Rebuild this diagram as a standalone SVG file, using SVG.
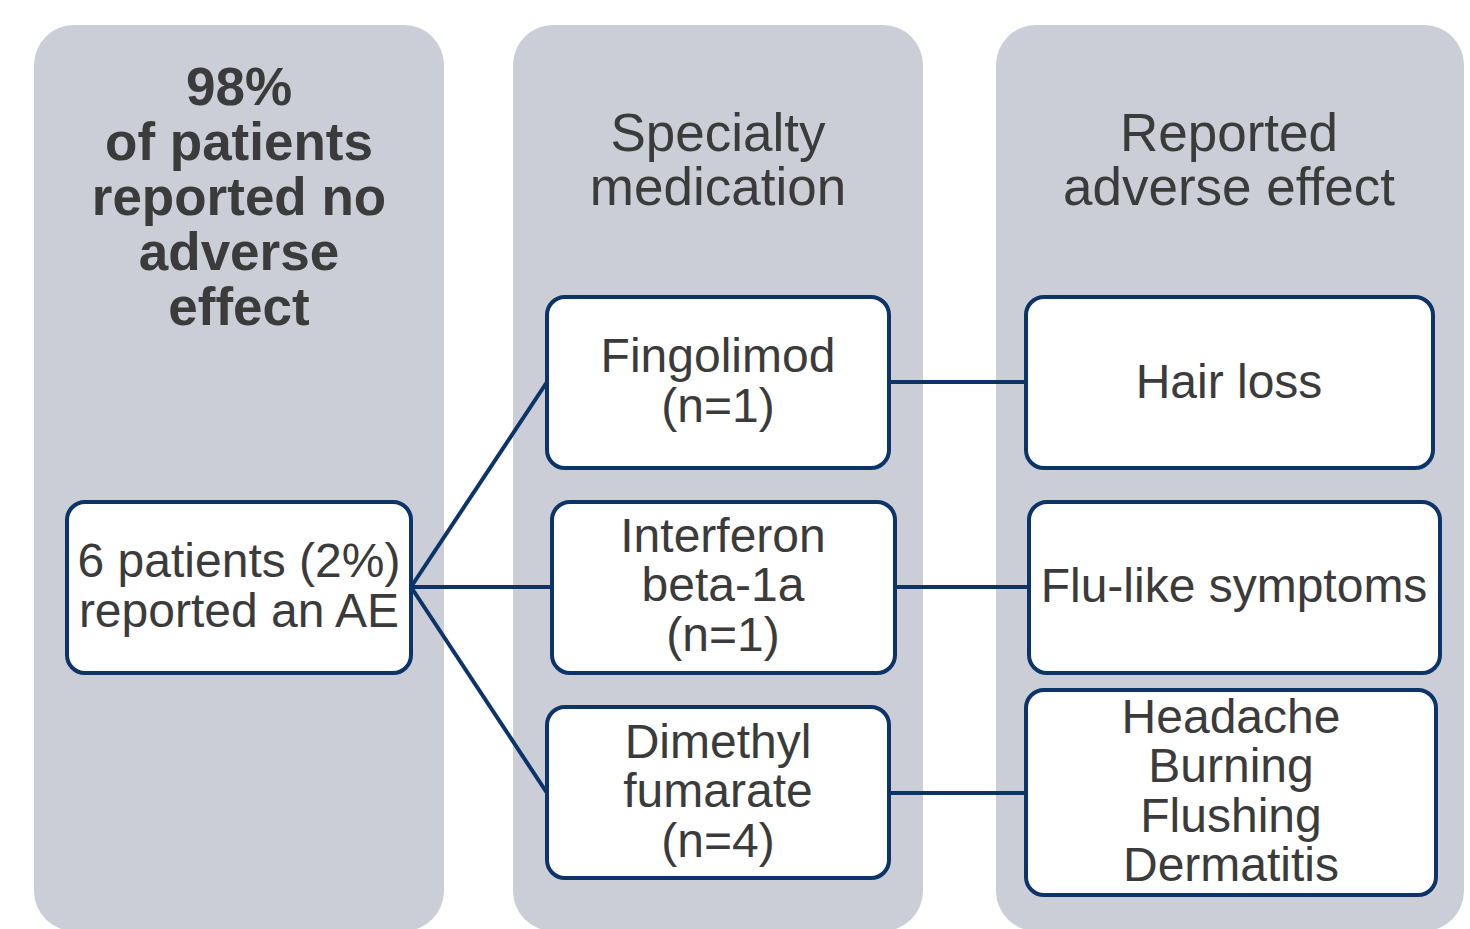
<svg xmlns="http://www.w3.org/2000/svg" width="1470" height="929" viewBox="0 0 1470 929">
<style>
.col{fill:#cbced6}
.box{fill:#ffffff;stroke:#0d3468;stroke-width:4}
.ln{stroke:#0d3468;stroke-width:4;fill:none}
.t{font-family:"Liberation Sans",Arial,sans-serif;fill:#3b3b3b;text-anchor:middle}
.h{font-size:53px}
.hb{font-size:53px;font-weight:bold}
.n{font-size:48px}
</style>
<rect width="1470" height="929" fill="#ffffff"/>
<g id="col1"><rect class="col" x="34" y="25" width="410" height="906" rx="40"/>
<text class="t hb" x="239" y="105">98%</text>
<text class="t hb" x="239" y="160">of patients</text>
<text class="t hb" x="239" y="215">reported no</text>
<text class="t hb" x="239" y="270">adverse</text>
<text class="t hb" x="239" y="325">effect</text>
</g>
<g id="col2"><rect class="col" x="513" y="25" width="410" height="906" rx="40"/>
<text class="t h" x="718" y="151">Specialty</text>
<text class="t h" x="718" y="205">medication</text>
</g>
<g id="col3"><rect class="col" x="996" y="25" width="468" height="906" rx="40"/>
<text class="t h" x="1229" y="151">Reported</text>
<text class="t h" x="1229" y="205">adverse effect</text>
</g>
<g id="connectors">
<line class="ln" x1="411" y1="587" x2="547" y2="382"/>
<line class="ln" x1="411" y1="587" x2="552" y2="587"/>
<line class="ln" x1="411" y1="587" x2="547" y2="793"/>
<line class="ln" x1="889" y1="382" x2="1026" y2="382"/>
<line class="ln" x1="895" y1="587" x2="1029" y2="587"/>
<line class="ln" x1="889" y1="793" x2="1026" y2="793"/>
</g>
<g id="ae"><rect class="box" x="67" y="502" width="344" height="171" rx="18"/>
<text class="t n" x="239" y="577">6 patients (2%)</text>
<text class="t n" x="239" y="627">reported an AE</text>
</g>
<g id="fingolimod"><rect class="box" x="547" y="297" width="342" height="171" rx="18"/>
<text class="t n" x="718" y="372">Fingolimod</text>
<text class="t n" x="718" y="422">(n=1)</text>
</g>
<g id="interferon"><rect class="box" x="552" y="502" width="343" height="171" rx="18"/>
<text class="t n" x="723" y="552">Interferon</text>
<text class="t n" x="723" y="601">beta-1a</text>
<text class="t n" x="723" y="651">(n=1)</text>
</g>
<g id="dimethyl"><rect class="box" x="547" y="707" width="342" height="171" rx="18"/>
<text class="t n" x="718" y="758">Dimethyl</text>
<text class="t n" x="718" y="807">fumarate</text>
<text class="t n" x="718" y="857">(n=4)</text>
</g>
<g id="hairloss"><rect class="box" x="1026" y="297" width="407" height="171" rx="18"/>
<text class="t n" x="1229" y="398">Hair loss</text>
</g>
<g id="flulike"><rect class="box" x="1029" y="502" width="411" height="171" rx="18"/>
<text class="t n" x="1234" y="602">Flu-like symptoms</text>
</g>
<g id="headache"><rect class="box" x="1026" y="690" width="410" height="205" rx="18"/>
<text class="t n" x="1231" y="733">Headache</text>
<text class="t n" x="1231" y="782">Burning</text>
<text class="t n" x="1231" y="832">Flushing</text>
<text class="t n" x="1231" y="881">Dermatitis</text>
</g>
</svg>
